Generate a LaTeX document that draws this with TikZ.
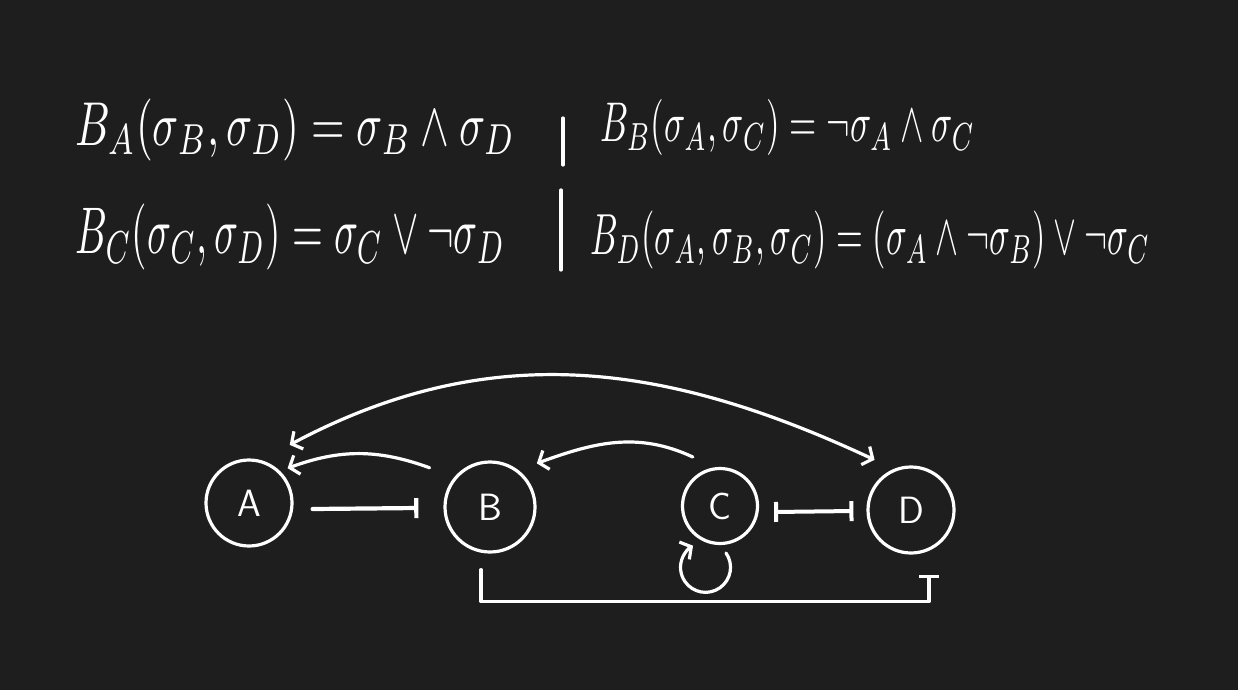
\documentclass[tikz,border=0pt]{standalone}
\usepackage{graphicx}
\usetikzlibrary{arrows.meta}
\definecolor{bg}{RGB}{30,30,30}
\tikzset{
  ink/.style={draw=white, line width=3.2pt, line cap=round, line join=round},
  state/.style={circle, ink, inner sep=0pt, text=white, font=\sffamily\fontsize{38}{38}\selectfont},
  act/.style={ink, -{Straight Barb[length=8pt,width=20pt]}},
  biact/.style={ink, {Straight Barb[length=8pt,width=20pt]}-{Straight Barb[length=8pt,width=20pt]}},
  inh/.style={ink, -{Bar[width=20pt]}},
  biinh/.style={ink, {Bar[width=20pt]}-{Bar[width=20pt]}},
  eqn/.style={text=white, inner sep=0pt, anchor=west}
}
\begin{document}
\begin{tikzpicture}[x=1pt,y=1pt]
\fill[bg] (0,0) rectangle (1238,-690);
\useasboundingbox (0,0) rectangle (1238,-690);

% equations
\node[eqn] (eq1) at (75,-130) {\resizebox*{440pt}{62pt}{$B_A(\sigma_B,\sigma_D)=\sigma_B\wedge\sigma_D$}};
\node[eqn] (eq2) at (600,-128) {\resizebox*{375pt}{56pt}{$B_B(\sigma_A,\sigma_C)=\neg\sigma_A\wedge\sigma_C$}};
\node[eqn] (eq3) at (75,-237) {\resizebox*{430pt}{66pt}{$B_C(\sigma_C,\sigma_D)=\sigma_C\vee\neg\sigma_D$}};
\node[eqn] (eq4) at (590,-240) {\resizebox*{560pt}{58pt}{$B_D(\sigma_A,\sigma_B,\sigma_C)=(\sigma_A\wedge\neg\sigma_B)\vee\neg\sigma_C$}};
\draw[ink] (563,-118) -- (563,-165);
\draw[ink] (561,-190) -- (561,-270);

% states
\node[state, minimum size=86pt] (A) at (249,-503) {A};
\node[state, minimum size=90pt] (B) at (490,-507) {B};
\node[state, minimum size=75pt] (C) at (720,-506) {C};
\node[state, minimum size=86pt] (D) at (911,-510) {D};

% activations
\draw[biact] ([shift={(55:71)}]A.center) to[out=28,in=155] ([shift={(126:62)}]D.center);
\draw[act] ([shift={(147:72)}]B.center) to[out=160,in=20] ([shift={(42:52)}]A.center);
\draw[act] ([shift={(119:56)}]C.center) to[out=155,in=20] ([shift={(43:64)}]B.center);
\draw[act] ([shift={(6,-47)}]C.center) arc[start angle=35, end angle=-240, radius=25];

% inhibitions
\draw[inh, line width=4.2pt] ([shift={(19,-6)}]A.east) -- ([shift={(-25,-1)}]B.west);
\draw[biinh, line width=4pt] ([shift={(15,-6)}]C.east) -- ([shift={(-13,-1)}]D.west);
\draw[inh] ([shift={(-9,-16)}]B.south) -- ++(0,-32) -| ([shift={(18,-20)}]D.south);
\end{tikzpicture}
\end{document}
